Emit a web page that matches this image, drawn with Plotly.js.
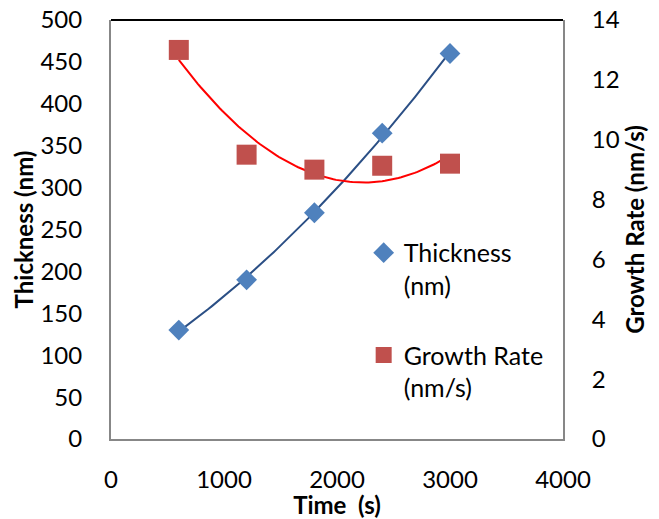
<!DOCTYPE html>
<html>
<head>
<meta charset="utf-8">
<script src="https://cdn.plot.ly/plotly-3.0.1.min.js"></script>
<style>html,body{margin:0;padding:0;background:#fff;}#chart{width:659px;height:519px;}</style>
</head>
<body>
<div id="chart"></div>
<script>
const timeS = [600, 1200, 1800, 2400, 3000];
const thicknessNm = [130, 190, 270, 365, 460];
const growthRate = [13.0, 9.5, 9.0, 9.13, 9.2];
const xTicks = [0, 1000, 2000, 3000, 4000];

// quadratic least-squares fit (Excel-style polynomial trendline, order 2)
function polyFit2(xs, ys) {
  let n = xs.length, sx=0, sx2=0, sx3=0, sx4=0, sy=0, sxy=0, sx2y=0;
  for (let i=0;i<n;i++){const x=xs[i], y=ys[i];
    sx+=x; sx2+=x*x; sx3+=x*x*x; sx4+=x*x*x*x; sy+=y; sxy+=x*y; sx2y+=x*x*y;}
  const A=[[n,sx,sx2,sy],[sx,sx2,sx3,sxy],[sx2,sx3,sx4,sx2y]];
  for (let c=0;c<3;c++){
    let p=c; for(let r=c+1;r<3;r++) if(Math.abs(A[r][c])>Math.abs(A[p][c])) p=r;
    [A[c],A[p]]=[A[p],A[c]];
    for(let r=0;r<3;r++){ if(r===c) continue; const f=A[r][c]/A[c][c];
      for(let k=c;k<4;k++) A[r][k]-=f*A[c][k]; }
  }
  const b=[A[0][3]/A[0][0],A[1][3]/A[1][1],A[2][3]/A[2][2]];
  return x=>b[0]+b[1]*x+b[2]*x*x;
}
function curve(xs, ys) {
  const f = polyFit2(xs, ys), lo = Math.min(...xs), hi = Math.max(...xs);
  const cx=[], cy=[];
  for (let i=0;i<=100;i++){ const x=lo+(hi-lo)*i/100; cx.push(x); cy.push(f(x)); }
  return {cx, cy};
}
const tFit = curve(timeS, thicknessNm);
const gFit = curve(timeS, growthRate);

const FONT = 'Lato, "Open Sans", sans-serif';
const FS = 24;
const data = [
  {x: tFit.cx, y: tFit.cy, mode:'lines', line:{color:'#2B4F85', width:2}, showlegend:false, hoverinfo:'skip', yaxis:'y'},
  {x: gFit.cx, y: gFit.cy, mode:'lines', line:{color:'#FF0000', width:2}, showlegend:false, hoverinfo:'skip', yaxis:'y2'},
  {x: timeS, y: thicknessNm, mode:'markers', name:'Thickness<br>(nm)', legend:'legend',
   marker:{symbol:'diamond', size:16, color:'#4F81BD'}, yaxis:'y'},
  {x: timeS, y: growthRate, mode:'markers', name:'Growth Rate<br>(nm/s)', legend:'legend2',
   marker:{symbol:'square', size:20, color:'#C0504D'}, yaxis:'y2'}
];
const legendBase = {xanchor:'left', yanchor:'top', bgcolor:'rgba(0,0,0,0)', valign:'top', font:{size:25, color:'#000'}};
const layout = {
  width:659, height:519,
  margin:{l:111, r:96, t:20, b:80},
  paper_bgcolor:'#fff', plot_bgcolor:'#fff',
  font:{family:FONT, size:FS, color:'#000'},
  xaxis:{range:[0,4000], tickvals:xTicks, ticktext:xTicks.map(String), showgrid:false, zeroline:false,
    showline:true, linecolor:'#878787', linewidth:2, ticks:'', ticklabelstandoff:18,
    tickfont:{size:FS}, title:{text:'<b>Time  (s)</b>', font:{size:FS}, standoff:0}},
  yaxis:{range:[0,500], dtick:50, showgrid:false, zeroline:false, showline:true, linecolor:'#878787', linewidth:2,
    ticks:'', ticklabelstandoff:22, tickfont:{size:FS}, title:{text:'<b>Thickness (nm)</b>', font:{size:FS}, standoff:0}},
  yaxis2:{range:[0,14], dtick:2, overlaying:'y', side:'right', showgrid:false, zeroline:false,
    showline:true, linecolor:'#878787', linewidth:2, ticks:'', ticklabelstandoff:22, tickfont:{size:FS},
    title:{text:'<b>Growth Rate (nm/s)</b>', font:{size:FS}, standoff:0}},
  shapes:[{type:'line', xref:'paper', yref:'paper', x0:0, x1:1, y0:1, y1:1, line:{color:'#000', width:2}}],
  legend: Object.assign({x:0.559, y:0.499}, legendBase),
  legend2: Object.assign({x:0.559, y:0.255}, legendBase),
  showlegend:true
};
Plotly.newPlot('chart', data, layout, {displayModeBar:false, staticPlot:true});
</script>
</body>
</html>
